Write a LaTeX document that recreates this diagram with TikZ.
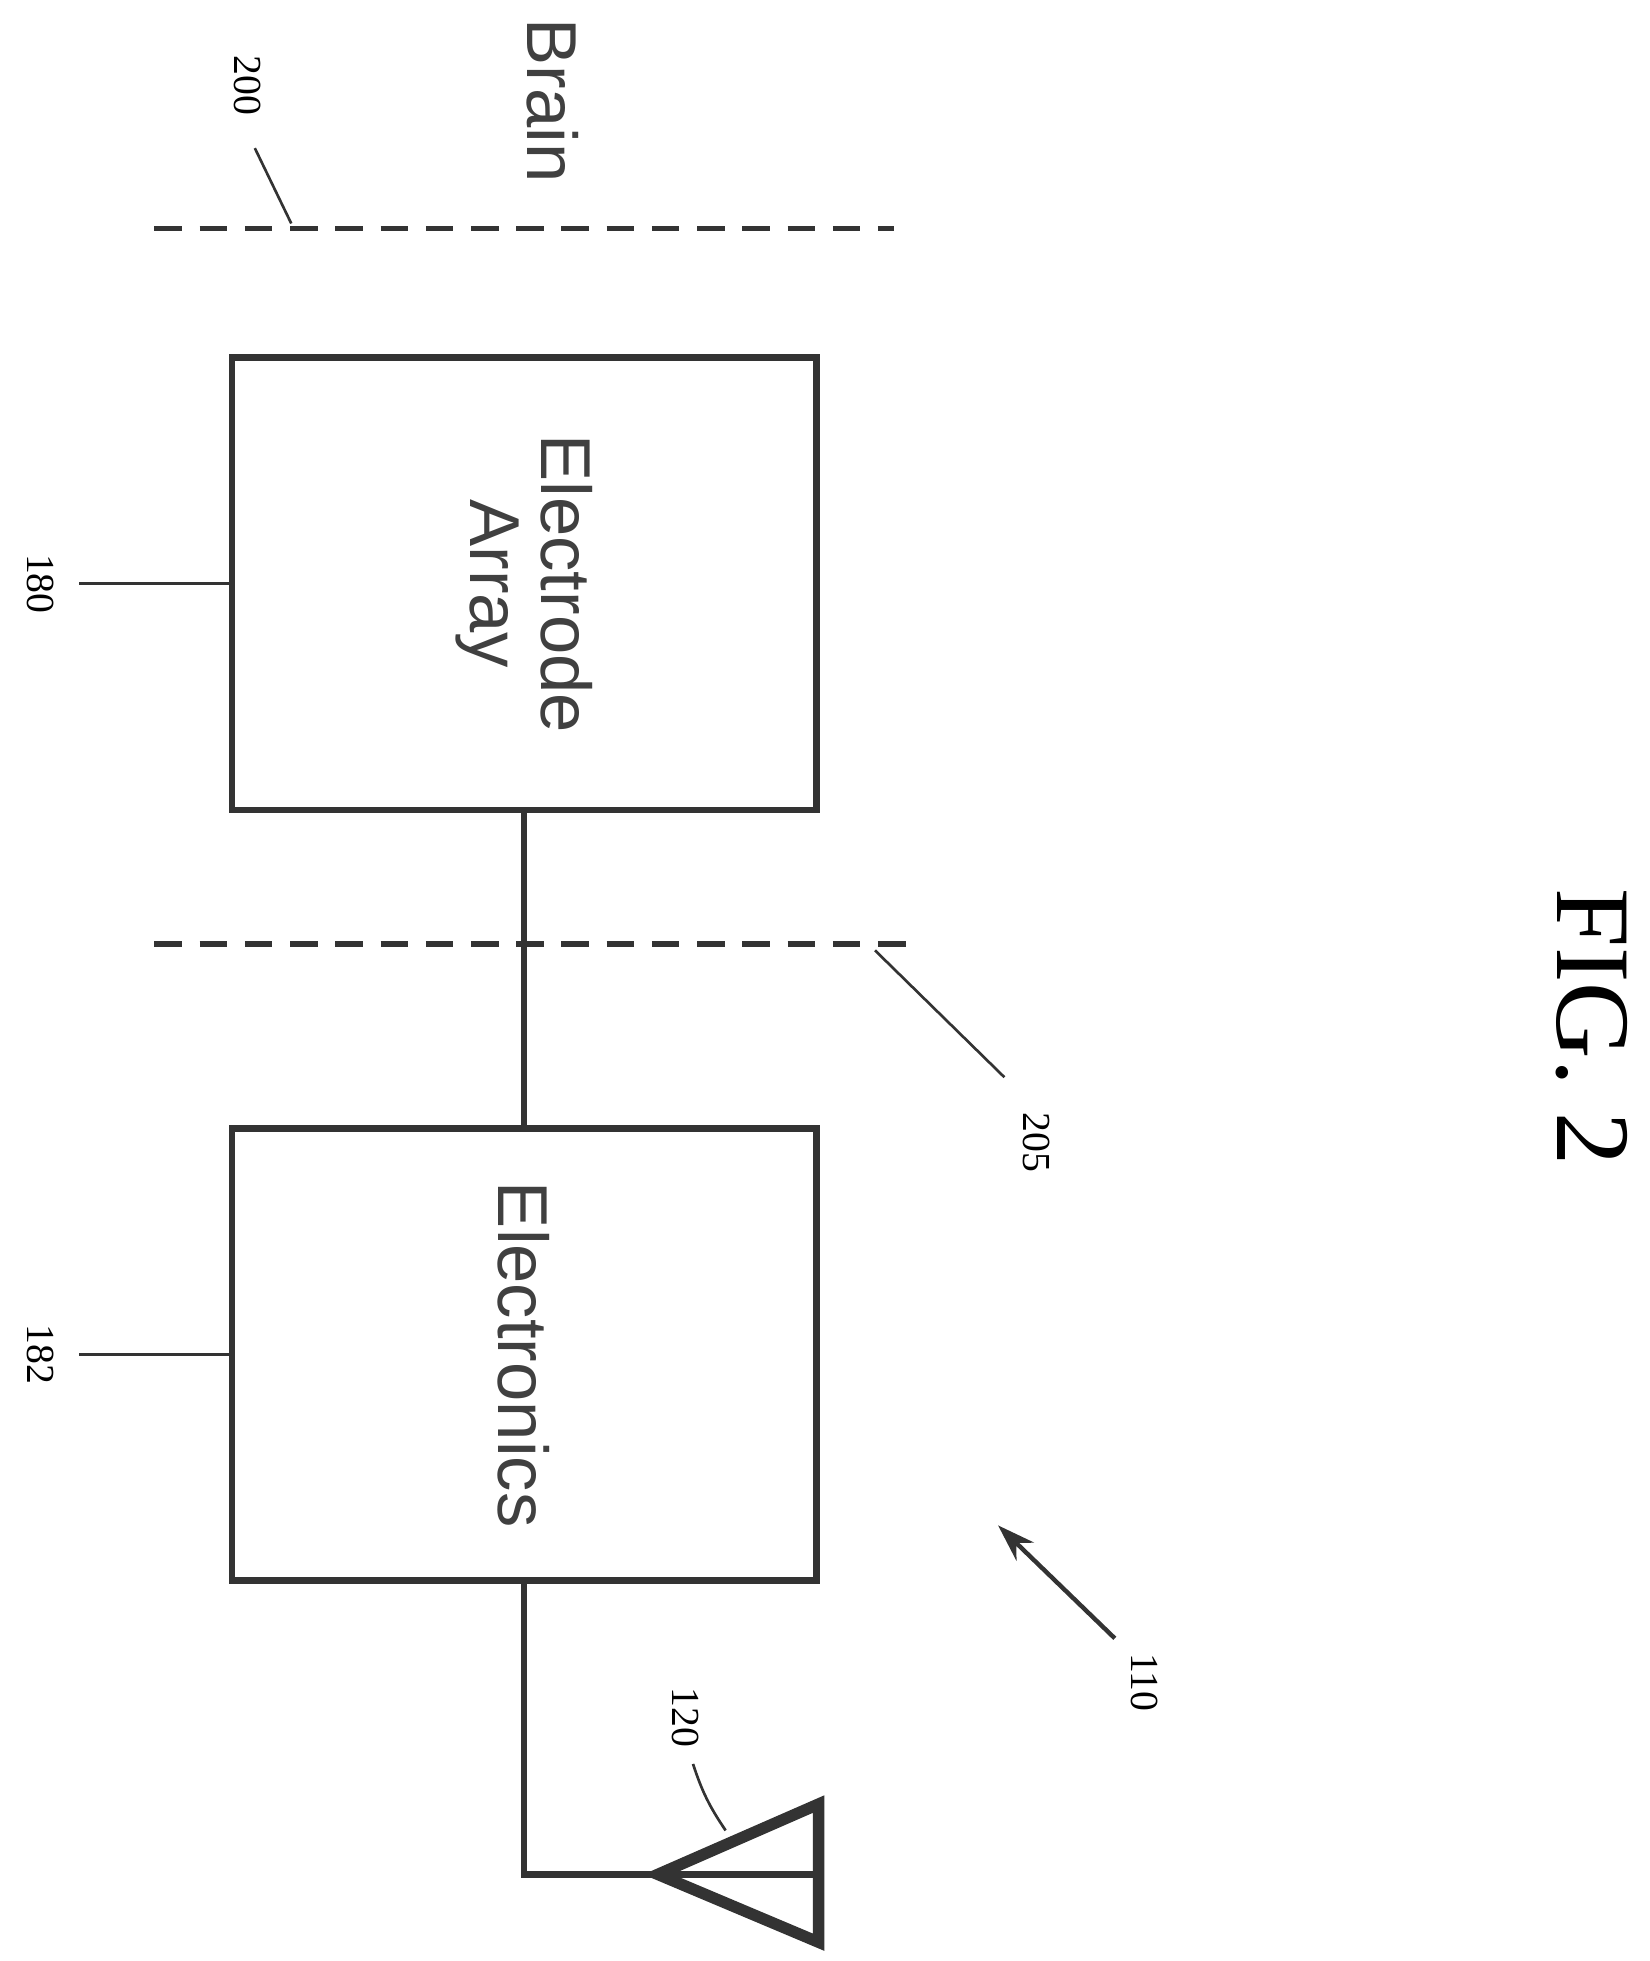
\documentclass[tikz,border=0pt]{standalone}
\usepackage{fontspec}
\setmainfont{Liberation Serif}
\setsansfont{Liberation Sans}
\usetikzlibrary{arrows.meta, positioning, calc}

\begin{document}
\begin{tikzpicture}[x=0.01cm, y=-0.01cm]
    % --- Style Definitions ---
    \tikzset{
        % Functional blocks
        block style/.style={
            draw=black!80,
            line width=1.5pt,
            minimum width=4.65cm,
            minimum height=3.6cm,
            inner sep=0pt
        },
        % Tissue boundaries
        boundary style/.style={
            draw=black!80,
            line width=1.3pt,
            dash pattern=on 0.22cm off 0.14cm
        },
        % Wiring between blocks
        wire style/.style={
            draw=black!80,
            line width=1.5pt
        },
        % Reference numerals and leaders
        numeral text/.style={
            font=\rmfamily\fontsize{9}{10}\selectfont,
            rotate=-90
        },
        leader style/.style={
            draw=black!80,
            line width=0.6pt
        },
        block text/.style={
            font=\sffamily\fontsize{16}{16}\selectfont,
            text=black!75,
            rotate=-90,
            align=center
        }
    }
    \useasboundingbox (0,0) rectangle (1314,1562);

    % --- 1. Boundaries ---
    \draw[boundary style] (123,182) -- (712,182);
    \draw[boundary style] (123,752) -- (728,752);
    \node[block text] (brain) at (440,80) {Brain};

    % --- 2. Blocks ---
    \node[block style] (array) at (417.5,465) {};
    \node[block text] at (array.center) {Electrode\\Array};
    \node[block style] (elec) at (417.5,1079) {};
    \node[block text] at (elec.center) {Electronics};

    % --- 3. Wires and antenna ---
    \draw[wire style] (array.south) -- (elec.north);
    \coordinate (apex) at (524,1493);
    \draw[wire style] (elec.south) |- (apex);
    \draw[draw=black!80, line width=2.6pt, line join=miter]
        (652,1437) -- (apex) -- (652,1547) -- cycle;
    \draw[wire style] (apex) -- (652,1493);

    % --- 4. Reference numerals ---
    \node[numeral text] (n200) at (197,68) {200};
    \draw[leader style] (203,118) -- (232,178);
    \node[numeral text] (n180) at (32,465) {180};
    \draw[leader style] (n180.north) ++(8,0) -- (array.west);
    \node[numeral text] (n182) at (32,1079) {182};
    \draw[leader style] (n182.north) ++(8,0) -- (elec.west);
    \node[numeral text] (n205) at (826,910) {205};
    \draw[leader style] (697,757) -- (800,858);
    \node[numeral text] (n120) at (546,1368) {120};
    \draw[leader style] (552,1405) to[bend right=8] (578,1458);
    \node[numeral text] (n110) at (912,1340) {110};
    \draw[leader style, line width=1pt, -{Stealth[length=0.3cm, width=0.2cm]}]
        (888,1305) -- (795,1215);

    % --- 5. Caption ---
    \node[font=\rmfamily\fontsize{24}{28}\selectfont, rotate=-90] (fig) at (1268,818) {FIG. 2};
\end{tikzpicture}
\end{document}
